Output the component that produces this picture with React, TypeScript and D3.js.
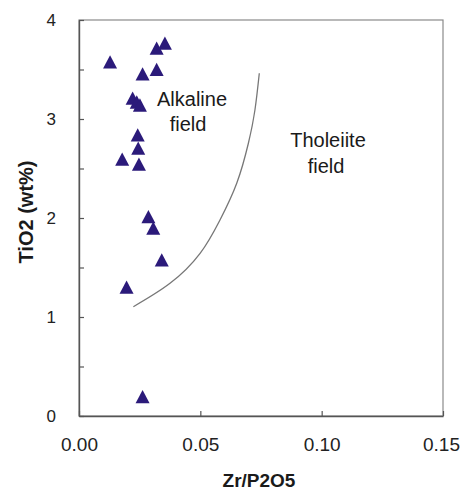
import React, { useEffect, useRef } from 'react'
import { select, scaleLinear, axisLeft, axisBottom, line, curveNatural, format, range } from 'd3'

// sample values
const zrP2O5 = [0.0128, 0.0320, 0.0354, 0.0262, 0.0320, 0.0221, 0.0238, 0.0251, 0.0242, 0.0244, 0.0178, 0.0247, 0.0286, 0.0306, 0.0341, 0.0196, 0.0262]
const tiO2 = [3.576, 3.714, 3.765, 3.455, 3.50, 3.21, 3.17, 3.14, 2.838, 2.704, 2.593, 2.542, 2.013, 1.896, 1.576, 1.30, 0.195]

// alkaline / tholeiite dividing line
const boundaryX = [0.0224, 0.0375, 0.0499, 0.0581, 0.0650, 0.0698, 0.0725, 0.0743]
const boundaryY = [1.104, 1.340, 1.643, 1.980, 2.351, 2.755, 3.091, 3.462]

const xTicks = [0, 0.05, 0.1, 0.15]
const yTicks = range(0, 4.01, 0.5)

const width = 461
const height = 490
const margins = { t: 20, r: 18, b: 74, l: 79 }

export default function App() {
    const container = useRef<SVGSVGElement | null>(null)

    useEffect(() => {
        const svg = select(container.current)
        svg.selectAll('*').remove()

        const plotwidth = width - margins.l - margins.r
        const plotheight = height - margins.t - margins.b

        const xScale = scaleLinear().domain([0, 0.15]).range([margins.l, margins.l + plotwidth])
        const yScale = scaleLinear().domain([0, 4]).range([margins.t + plotheight, margins.t])

        // frame
        svg.append('rect')
            .attr('x', margins.l).attr('y', margins.t)
            .attr('width', plotwidth).attr('height', plotheight)
            .attr('fill', 'none').attr('stroke', '#8a8a8a').attr('stroke-width', 1.2)

        const yAxis = axisLeft(yScale)
            .tickValues(yTicks)
            .tickSize(-5)
            .tickSizeOuter(0)
            .tickPadding(23)
            .tickFormat((d) => (Number(d) % 1 === 0 ? String(d) : ''))

        const gy = svg.append('g')
            .attr('transform', `translate(${margins.l}, 0)`)
            .call(yAxis)
        gy.select('.domain').attr('stroke', '#555').attr('stroke-width', 1.4)
        gy.selectAll('.tick line').attr('stroke', '#555').attr('stroke-width', 1.2)
        gy.selectAll('text')
            .attr('font-family', 'Liberation Sans, Arial, sans-serif')
            .attr('font-size', 17).attr('fill', '#222')

        const xAxis = axisBottom(xScale)
            .tickValues(xTicks)
            .tickSize(-5)
            .tickSizeOuter(0)
            .tickPadding(22)
            .tickFormat(format('.2f'))

        const gx = svg.append('g')
            .attr('transform', `translate(0, ${margins.t + plotheight})`)
            .call(xAxis)
        gx.select('.domain').attr('stroke', '#555').attr('stroke-width', 1.4)
        gx.selectAll('.tick line').attr('stroke', '#555').attr('stroke-width', 1.2)
        gx.selectAll('text')
            .attr('font-family', 'Liberation Sans, Arial, sans-serif')
            .attr('font-size', 19).attr('fill', '#222')
            .attr('dx', (d) => (Number(d) === 0.15 ? -2 : 0))

        // boundary curve
        const pts = boundaryX.map((x, i) => [x, boundaryY[i]] as [number, number])
        const boundary = line<[number, number]>()
            .x((d) => xScale(d[0]))
            .y((d) => yScale(d[1]))
            .curve(curveNatural)
        svg.append('path')
            .attr('d', boundary(pts))
            .attr('fill', 'none')
            .attr('stroke', '#777')
            .attr('stroke-width', 1.3)

        // samples
        const data = zrP2O5.map((x, i) => ({ x, y: tiO2[i] }))
        svg.selectAll('.pt').data(data).join('path')
            .attr('class', 'pt')
            .attr('transform', (d) => `translate(${xScale(d.x)}, ${yScale(d.y)})`)
            .attr('d', 'M0,-6.8L7,6.5L-7,6.5Z')
            .attr('fill', '#2b1a7a')

        // field labels
        const labels = [
            { text: 'Alkaline', x: 192, y: 106 },
            { text: 'field', x: 188, y: 131 },
            { text: 'Tholeiite', x: 328, y: 147 },
            { text: 'field', x: 326, y: 173 },
        ]
        svg.selectAll('.field').data(labels).join('text')
            .attr('class', 'field')
            .attr('x', (d) => d.x).attr('y', (d) => d.y)
            .attr('text-anchor', 'middle')
            .attr('font-family', 'Liberation Sans, Arial, sans-serif')
            .attr('font-size', 20).attr('fill', '#1a1a1a')
            .text((d) => d.text)

        // axis titles
        svg.append('text')
            .attr('x', 259).attr('y', 487)
            .attr('text-anchor', 'middle')
            .attr('font-family', 'Liberation Sans, Arial, sans-serif')
            .attr('font-weight', 'bold')
            .attr('font-size', 19).attr('fill', '#1a1a1a')
            .text('Zr/P2O5')

        svg.append('text')
            .attr('transform', `translate(33, 212) rotate(-90)`)
            .attr('text-anchor', 'middle')
            .attr('font-family', 'Liberation Sans, Arial, sans-serif')
            .attr('font-weight', 'bold')
            .attr('font-size', 20).attr('fill', '#1a1a1a')
            .text('TiO2 (wt%)')
    }, [])

    return (
        <svg
            ref={container}
            width={width}
            height={height}
            style={{ position: 'absolute', left: 0, top: 0, background: '#fff' }}
        />
    )
}
